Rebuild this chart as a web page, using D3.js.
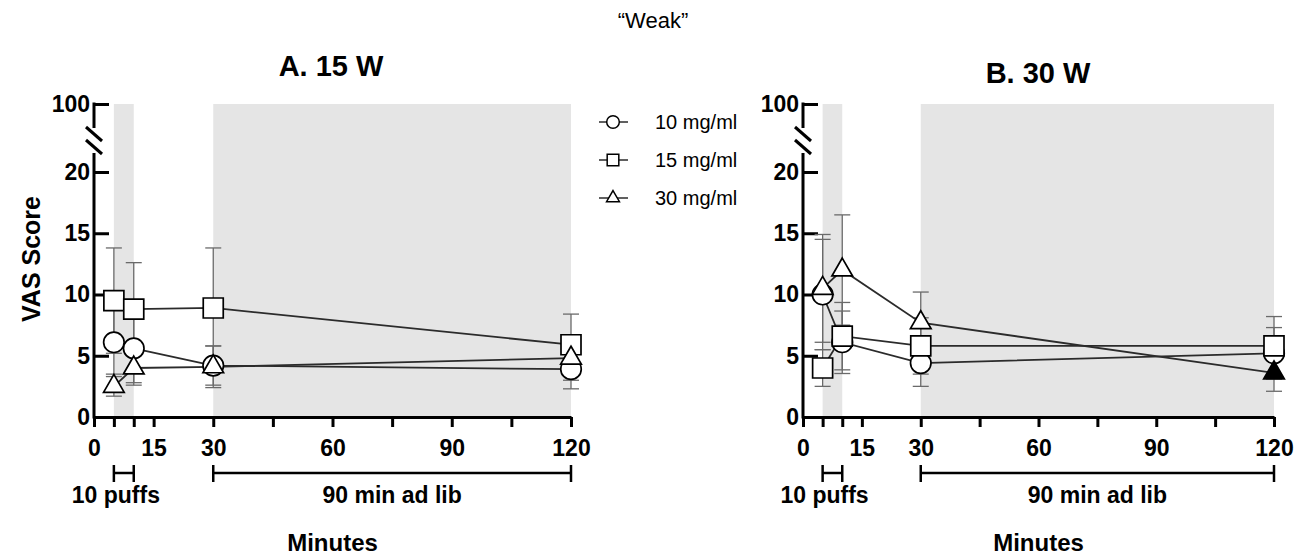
<!DOCTYPE html>
<html>
<head>
<meta charset="utf-8">
<script src="https://cdn.jsdelivr.net/npm/d3@7"></script>
<style>
body { margin: 0; background: #fff; }
</style>
</head>
<body>
<div id="chart"></div>
<script>
// data
const times = [5, 10, 30, 120]
const doses = ['10 mg/ml', '15 mg/ml', '30 mg/ml']
const yTicks = [0, 5, 10, 15, 20, 100]
const xTicks = [0, 5, 10, 15, 30, 45, 60, 75, 90, 105, 120]
const xLabels = [0, 15, 30, 60, 90, 120]
const puffWindow = [5, 10]
const adLibWindow = [30, 120]

// A. 15 W
const meanA10 = [6.1, 5.6, 4.2, 3.9]
const semA10 = [2.6, 2.8, 1.6, 1.6]
const meanA15 = [9.5, 8.8, 8.9, 5.9]
const semA15 = [4.3, 3.8, 4.9, 2.5]
const meanA30 = [2.5, 4.0, 4.1, 4.8]
const semA30 = [0.8, 1.4, 1.7, 1.8]

// B. 30 W
const meanB10 = [10.0, 6.1, 4.4, 5.2]
const semB10 = [4.5, 2.55, 1.9, 2.1]
const meanB15 = [4.0, 6.6, 5.8, 5.8]
const semB15 = [1.5, 2.75, 2.3, 2.4]
const meanB30 = [10.5, 12.0, 7.7, 3.6]
const semB30 = [4.4, 4.5, 2.5, 1.5]
const filledB30 = [false, false, false, true]

const font = 'Liberation Sans, Arial, Helvetica, sans-serif'
const shapes = [d3.symbolCircle, d3.symbolSquare, d3.symbolTriangle]
const shapeSize = [330, 400, 185]
const legendSize = [125, 135, 72]

let svg = d3.select('#chart').append('svg')
    .attr('width', 1307)
    .attr('height', 559)
    .style('font-family', font)

svg.append('text')
    .attr('x', 653)
    .attr('y', 28)
    .attr('text-anchor', 'middle')
    .attr('font-size', 22)
    .text('\u201CWeak\u201D')

svg.append('text')
    .attr('transform', 'translate(40,259) rotate(-90)')
    .attr('text-anchor', 'middle')
    .attr('font-size', 25)
    .attr('font-weight', 'bold')
    .text('VAS Score')

let panels = [
    { title: 'A. 15 W', left: 94, right: 571, titleX: 331, titleY: 76,
      means: [meanA10, meanA15, meanA30], sems: [semA10, semA15, semA30],
      filled: [[], [], []] },
    { title: 'B. 30 W', left: 803, right: 1274, titleX: 1038, titleY: 83,
      means: [meanB10, meanB15, meanB30], sems: [semB10, semB15, semB30],
      filled: [[], [], filledB30] }
]

panels.forEach(drawPanel)

function drawPanel(p) {
    let x = d3.scaleLinear().domain([0, 120]).range([p.left, p.right])
    let y = d3.scaleLinear().domain([0, 20, 100]).range([417, 172, 104])
    let g = svg.append('g')

    // shaded sampling windows
    g.selectAll('rect.window')
        .data([puffWindow, adLibWindow])
        .enter()
        .append('rect')
            .attr('class', 'window')
            .attr('x', d => x(d[0]))
            .attr('width', d => x(d[1]) - x(d[0]))
            .attr('y', y(100))
            .attr('height', y(0) - y(100))
            .attr('fill', '#e5e5e5')

    g.append('text')
        .attr('x', p.titleX)
        .attr('y', p.titleY)
        .attr('text-anchor', 'middle')
        .attr('font-size', 29)
        .attr('font-weight', 'bold')
        .text(p.title)

    // x axis
    let xAxis = g.append('g')
        .attr('transform', `translate(0,${y(0)})`)
        .call(d3.axisBottom(x)
            .tickValues(xTicks)
            .tickFormat(d => xLabels.includes(d) ? d : '')
            .tickSizeInner(10)
            .tickSizeOuter(0)
            .tickPadding(13))
    xAxis.select('.domain').attr('stroke-width', 3).attr('stroke', '#000')
    xAxis.selectAll('.tick line').attr('stroke-width', 3).attr('stroke', '#000')
    xAxis.selectAll('text')
        .attr('font-family', font)
        .attr('font-size', 23)
        .attr('font-weight', 'bold')
        .attr('fill', '#000')

    // y axis, ticks point inward, broken between 20 and 100
    let yAxis = g.append('g')
        .attr('transform', `translate(${x(0)},0)`)
        .call(d3.axisLeft(y)
            .tickValues(yTicks)
            .tickSizeInner(-15)
            .tickSizeOuter(0)
            .tickPadding(4))
    yAxis.select('.domain').remove()
    yAxis.selectAll('.tick line').attr('stroke-width', 3).attr('stroke', '#000')
    yAxis.selectAll('text')
        .attr('font-family', font)
        .attr('font-size', 23)
        .attr('font-weight', 'bold')
        .attr('fill', '#000')

    let ax = x(0)
    let breakLow = y(20) - 19
    let breakHigh = y(20) - 44
    g.append('line')
        .attr('x1', ax).attr('x2', ax)
        .attr('y1', y(0) + 1.5).attr('y2', breakLow)
        .attr('stroke', '#000').attr('stroke-width', 3)
    g.append('line')
        .attr('x1', ax).attr('x2', ax)
        .attr('y1', breakHigh).attr('y2', y(100) - 1.5)
        .attr('stroke', '#000').attr('stroke-width', 3)
    g.selectAll('line.break')
        .data([breakHigh + 6, breakLow - 6])
        .enter()
        .append('line')
            .attr('class', 'break')
            .attr('x1', ax - 8).attr('y1', d => d - 7)
            .attr('x2', ax + 8).attr('y2', d => d + 7)
            .attr('stroke', '#000').attr('stroke-width', 3)

    // brackets under the axis
    let brackets = [
        { w: puffWindow, label: '10 puffs', at: 5.5 },
        { w: adLibWindow, label: '90 min ad lib', at: 75 }
    ]
    brackets.forEach(b => {
        let bg = g.append('g').attr('stroke', '#000').attr('stroke-width', 2.5)
        bg.append('line')
            .attr('x1', x(b.w[0])).attr('x2', x(b.w[1]))
            .attr('y1', 473).attr('y2', 473)
        b.w.forEach(t => bg.append('line')
            .attr('x1', x(t)).attr('x2', x(t))
            .attr('y1', 465).attr('y2', 482))
        g.append('text')
            .attr('x', x(b.at))
            .attr('y', 503)
            .attr('text-anchor', 'middle')
            .attr('font-size', 23)
            .attr('font-weight', 'bold')
            .text(b.label)
    })

    g.append('text')
        .attr('x', (p.left + p.right) / 2)
        .attr('y', 551)
        .attr('text-anchor', 'middle')
        .attr('font-size', 24)
        .attr('font-weight', 'bold')
        .text('Minutes')

    let series = doses.map((dose, i) => ({
        dose,
        shape: i,
        points: times.map((t, j) => ({
            t,
            mean: p.means[i][j],
            sem: p.sems[i][j],
            filled: !!p.filled[i][j]
        }))
    }))

    // error bars
    let errGroup = g.append('g').attr('stroke', '#6a6a6a').attr('stroke-width', 1.3)
    series.forEach(s => {
        s.points.forEach(d => {
            let lo = y(d.mean - d.sem), hi = y(d.mean + d.sem)
            errGroup.append('line')
                .attr('x1', x(d.t)).attr('x2', x(d.t))
                .attr('y1', lo).attr('y2', hi)
            ;[lo, hi].forEach(v => errGroup.append('line')
                .attr('x1', x(d.t) - 8).attr('x2', x(d.t) + 8)
                .attr('y1', v).attr('y2', v))
        })
    })

    let line = d3.line()
        .x(d => x(d.t))
        .y(d => y(d.mean))
    g.selectAll('path.series')
        .data(series)
        .enter()
        .append('path')
            .attr('class', 'series')
            .attr('d', d => line(d.points))
            .attr('fill', 'none')
            .attr('stroke', '#2b2b2b')
            .attr('stroke-width', 1.8)

    series.forEach(s => {
        g.selectAll(`path.marker-${s.shape}`)
            .data(s.points)
            .enter()
            .append('path')
                .attr('class', `marker-${s.shape}`)
                .attr('transform', d => `translate(${x(d.t)},${y(d.mean)})`)
                .attr('d', d3.symbol().type(shapes[s.shape]).size(shapeSize[s.shape]))
                .attr('fill', d => d.filled ? '#000' : '#fff')
                .attr('stroke', '#000')
                .attr('stroke-width', 1.7)
    })
}

// legend
let legend = svg.append('g')
let rowY = [122, 160, 198]
doses.forEach((dose, i) => {
    legend.append('line')
        .attr('x1', 599).attr('x2', 628)
        .attr('y1', rowY[i]).attr('y2', rowY[i])
        .attr('stroke', '#2b2b2b').attr('stroke-width', 1.5)
    legend.append('path')
        .attr('transform', `translate(613,${rowY[i]})`)
        .attr('d', d3.symbol().type(shapes[i]).size(legendSize[i]))
        .attr('fill', '#fff')
        .attr('stroke', '#000')
        .attr('stroke-width', 1.5)
    legend.append('text')
        .attr('x', 655)
        .attr('y', rowY[i] + 7)
        .attr('font-size', 20)
        .text(dose)
})
</script>
</body>
</html>
